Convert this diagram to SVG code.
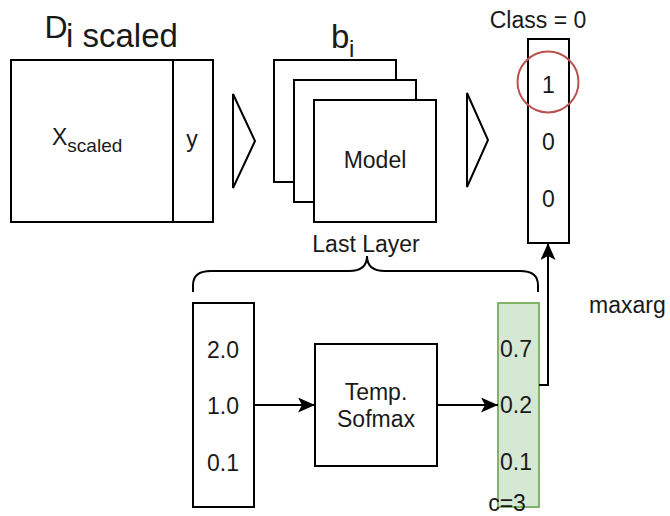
<svg xmlns="http://www.w3.org/2000/svg" width="670" height="516" viewBox="0 0 670 516">
  <defs>
    <style>
      .box { fill: #ffffff; stroke: #000000; stroke-width: 2; }
      .green { fill: #d5e8d4; stroke: #82b366; stroke-width: 2; }
      .line { fill: none; stroke: #000000; stroke-width: 2; }
      .txt { font-family: "Liberation Sans", Arial, sans-serif; font-size: 23px; fill: #1a1a1a; }
      .mid { text-anchor: middle; }
      .sub { font-size: 19px; }
    </style>
    <marker id="arrow" markerUnits="userSpaceOnUse" markerWidth="17" markerHeight="15" viewBox="0 0 17 15" refX="17" refY="7.5" orient="auto">
      <path d="M17,7.5 L0,0 L4,7.5 L0,15 Z" fill="#000000"/>
    </marker>
  </defs>
  <rect width="670" height="516" fill="#ffffff"/>

  <!-- scaled dataset -->
  <g id="dataset">
    <text class="txt" x="44.5" y="38" style="font-size:32px">D</text>
    <text class="txt" x="66" y="47" style="font-size:33px">i scaled</text>
    <rect class="box" x="11" y="60" width="202" height="162"/>
    <line class="line" x1="173" y1="60" x2="173" y2="222"/>
    <text class="txt" x="52" y="145">X<tspan class="sub" dy="7">scaled</tspan></text>
    <text class="txt mid" x="192" y="147">y</text>
  </g>

  <g id="step1">
    <polygon class="box" points="233,94 255,141 233,188"/>
  </g>

  <!-- batch of models -->
  <g id="models">
    <text class="txt" x="331" y="48" style="font-size:33px">b</text>
    <text class="txt" x="349" y="57" style="font-size:24px">i</text>
    <rect class="box" x="274" y="60" width="122" height="122"/>
    <rect class="box" x="294" y="80" width="122" height="122"/>
    <rect class="box" x="314" y="100" width="122" height="122"/>
    <text class="txt mid" x="375" y="168">Model</text>
  </g>

  <g id="step2">
    <polygon class="box" points="467,93 488,140 467,187"/>
  </g>

  <!-- one-hot class vector -->
  <g id="onehot">
    <text class="txt mid" x="538" y="28">Class = 0</text>
    <rect class="box" x="528" y="39" width="41" height="204"/>
    <text class="txt mid" x="548.5" y="93">1</text>
    <text class="txt mid" x="548.5" y="150">0</text>
    <text class="txt mid" x="548.5" y="207">0</text>
    <circle cx="548" cy="82" r="30.5" fill="none" stroke="#b85450" stroke-width="2"/>
  </g>

  <!-- last layer brace -->
  <g id="brace">
    <text class="txt mid" x="366" y="252">Last Layer</text>
    <path class="line" d="M193,292 L193,285 Q193,271 211,271 L349,271 Q367,271 367,256 Q367,271 385,271 L520,271 Q538,271 538,285 L538,292"/>
  </g>

  <g id="logits">
    <rect class="box" x="193" y="303" width="61" height="204"/>
    <text class="txt mid" x="223" y="358">2.0</text>
    <text class="txt mid" x="223" y="414">1.0</text>
    <text class="txt mid" x="223" y="471">0.1</text>
  </g>

  <g id="softmax">
    <rect class="box" x="315" y="344" width="122" height="122"/>
    <text class="txt mid" x="376" y="400">Temp.</text>
    <text class="txt mid" x="376" y="427">Sofmax</text>
  </g>

  <g id="probs">
    <rect class="green" x="498" y="303" width="41" height="204"/>
    <text class="txt mid" x="516" y="357">0.7</text>
    <text class="txt mid" x="516" y="413">0.2</text>
    <text class="txt mid" x="516" y="470">0.1</text>
    <text class="txt mid" x="507" y="511">c=3</text>
  </g>

  <g id="maxarg-label">
    <text class="txt" x="589" y="313">maxarg</text>
  </g>

  <g id="connectors">
    <line class="line" x1="254" y1="405" x2="315" y2="405" marker-end="url(#arrow)"/>
    <line class="line" x1="437" y1="405" x2="498" y2="405" marker-end="url(#arrow)"/>
    <polyline class="line" points="539,385 548,385 548,243" marker-end="url(#arrow)"/>
  </g>
</svg>
